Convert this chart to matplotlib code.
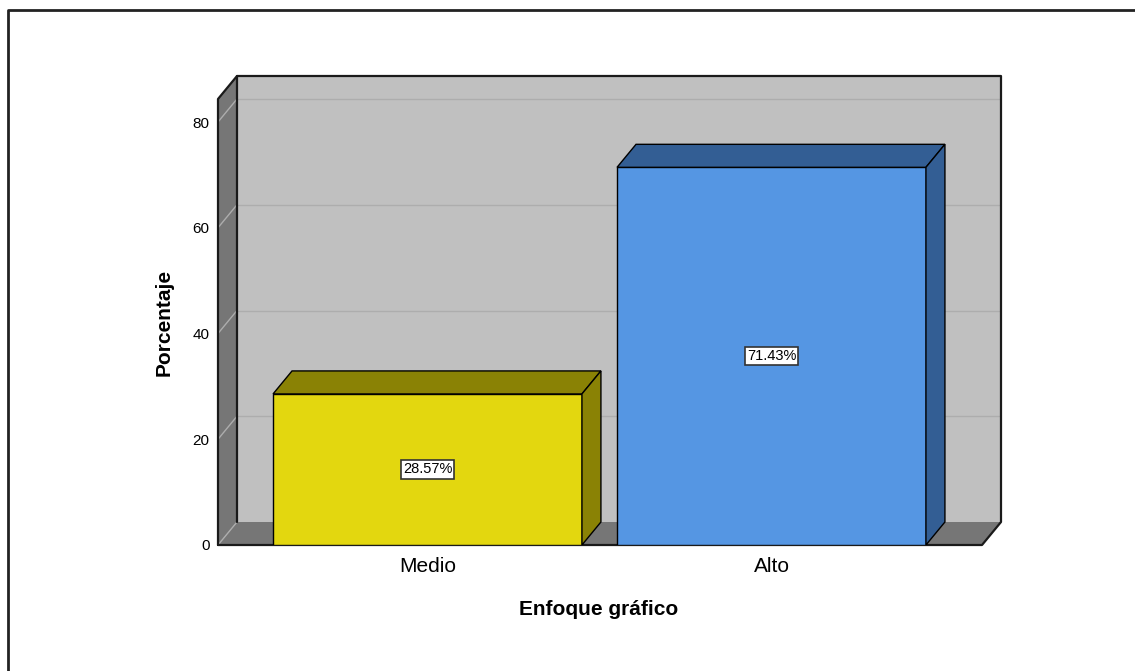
import matplotlib
matplotlib.use("Agg")
import matplotlib.pyplot as plt
from matplotlib.patches import Polygon, Rectangle
from matplotlib.lines import Line2D

plt.rcParams['font.family'] = ['Liberation Sans', 'DejaVu Sans']

# --- data ---
categories = ['Medio', 'Alto']
percentages = [28.57, 71.43]
value_labels = ['28.57%', '71.43%']
yticks = [0, 20, 40, 60, 80]

# --- style ---
front_colors = ['#E3D70F', '#5596E3']
side_colors = ['#8A8205', '#335E94']
wall_back = '#C0C0C0'
wall_side = '#767676'
grid_color = '#ADADAD'

# depth of the pseudo-3D box (in data units)
dx, dy = 0.0552, 4.35
x0, x1 = -0.609, 1.612
ymax = 84.35
bar_w = 0.898

fig = plt.figure(figsize=(11.35, 6.71), dpi=100)
ax = fig.add_axes([218 / 1135, 126 / 671, 783 / 1135, 469 / 671])
ax.set_xlim(x0, x1 + dx)
ax.set_ylim(0, ymax + dy)

# walls
ax.add_patch(Rectangle((x0 + dx, dy), x1 - x0, ymax, fc=wall_back, ec='none', zorder=1))
ax.add_patch(Polygon([(x0, 0), (x0 + dx, dy), (x0 + dx, ymax + dy), (x0, ymax)],
                     fc=wall_side, ec='none', zorder=1))
ax.add_patch(Polygon([(x0, 0), (x1, 0), (x1 + dx, dy), (x0 + dx, dy)],
                     fc=wall_side, ec='none', zorder=1))

# gridlines on back and left wall
for y in yticks:
    ax.plot([x0, x0 + dx], [y, y + dy], color=grid_color, lw=1, zorder=2)
    if y > 0:
        ax.plot([x0 + dx, x1 + dx], [y + dy, y + dy], color=grid_color, lw=1, zorder=2)

# box outline
k = dict(color='#1a1a1a', lw=1.6, zorder=3, solid_capstyle='round', clip_on=False)
ax.plot([x0, x0, x0 + dx, x1 + dx, x1 + dx, x1, x0], [0, ymax, ymax + dy, ymax + dy, dy, 0, 0], **k)
ax.plot([x0 + dx, x0 + dx], [dy, ymax + dy], **k)

# bars
for i, (v, lab) in enumerate(zip(percentages, value_labels)):
    l, r = i - bar_w / 2, i + bar_w / 2
    ax.add_patch(Rectangle((l, 0), bar_w, v, fc=front_colors[i], ec='black', lw=1, zorder=4))
    ax.add_patch(Polygon([(l, v), (r, v), (r + dx, v + dy), (l + dx, v + dy)],
                         fc=side_colors[i], ec='black', lw=1, zorder=4))
    ax.add_patch(Polygon([(r, 0), (r + dx, dy), (r + dx, v + dy), (r, v)],
                         fc=side_colors[i], ec='black', lw=1, zorder=4))
    ax.text(i, v / 2, lab, ha='center', va='center', fontsize=10.5, zorder=5,
            bbox=dict(boxstyle='square,pad=0.15', fc='white', ec='#333333', lw=1.2))

# axes
for s in ax.spines.values():
    s.set_visible(False)
ax.set_facecolor('none')
ax.set_yticks(yticks)
ax.set_yticklabels([str(t) for t in yticks], fontsize=11)
ax.tick_params(axis='y', length=0, pad=6)
ax.set_xticks(range(len(categories)))
ax.set_xticklabels(categories, fontsize=15)
ax.tick_params(axis='x', length=0, pad=9)
ax.set_xlabel('Enfoque gráfico', fontsize=15, fontweight='bold')
ax.xaxis.set_label_coords((599 - 218) / 783, -55 / 469)
ax.set_ylabel('Porcentaje', fontsize=15, fontweight='bold')
ax.yaxis.set_label_coords((174 - 218) / 783, (545 - 322) / 469)

# outer frame (top and left only)
fig.add_artist(Line2D([8 / 1135, 8 / 1135, 1], [0, 1 - 10 / 671, 1 - 10 / 671],
                      color='#222222', lw=2, transform=fig.transFigure))

fig.savefig('out.png', dpi=100, facecolor='white')
